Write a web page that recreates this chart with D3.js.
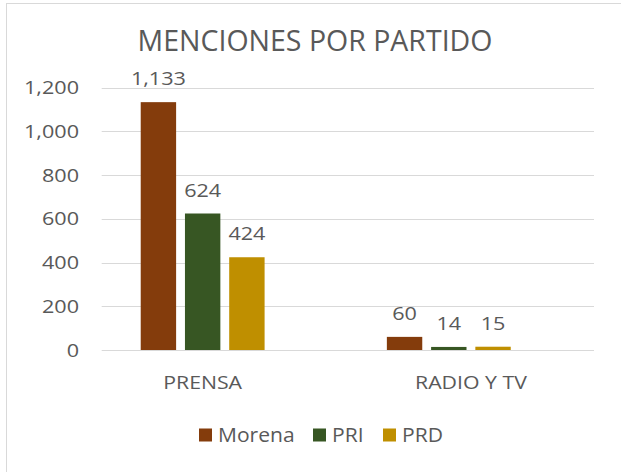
<!DOCTYPE html>
<html lang="es">
<head>
	<meta charset="UTF-8">
	<title>Menciones por partido</title>
	<script src="https://d3js.org/d3.v7.min.js"></script>
	<style>
		body { margin: 0; background: #fff; }
		text { font-family: "Open Sans", "Liberation Sans", sans-serif; fill: #595959; }
	</style>
</head>
<body>
<div id="chart"></div>
<script>

	// data
	var categories = ["PRENSA", "RADIO Y TV"];
	var series = ["Morena", "PRI", "PRD"];
	var morena = [1133, 60];
	var pri = [624, 14];
	var prd = [424, 15];
	var yTicks = [0, 200, 400, 600, 800, 1000, 1200];
	var colors = ["#843C0C", "#375623", "#BF8F00"];

	var values = [morena, pri, prd];
	var w = 621, h = 472;

	var svg = d3.select("#chart").append("svg")
		.attr("width", w)
		.attr("height", h);

	// chart border
	svg.append("rect")
		.attr("x", 6.5).attr("y", 3.5)
		.attr("width", 640).attr("height", 500)
		.attr("fill", "none")
		.attr("stroke", "#D9D9D9");

	// the picture's text is wider than the fonts we have, so stretch it a bit
	function place(sel, x, y, sx) {
		return sel.attr("transform", "translate(" + x + "," + y + ") scale(" + sx + ",1)");
	}

	var y = d3.scaleLinear().domain([0, 1200]).range([350, 87.5]);

	var x0 = d3.scaleBand()
		.domain(categories)
		.range([101.7, 594])
		.paddingInner(0.317)
		.paddingOuter(0.1585);

	// Excel leaves room for a 4th (empty) series slot
	var x1 = d3.scaleBand()
		.domain([0, 1, 2, 3])
		.range([0, x0.bandwidth()])
		.paddingInner(0.2);

	// gridlines
	svg.append("g").selectAll("line")
		.data(yTicks)
		.enter().append("line")
		.attr("x1", 101.7).attr("x2", 594)
		.attr("y1", function (d) { return Math.round(y(d)) + 0.5; })
		.attr("y2", function (d) { return Math.round(y(d)) + 0.5; })
		.attr("stroke", "#D9D9D9")
		.attr("stroke-width", 1);

	// y tick labels
	svg.append("g").selectAll("text")
		.data(yTicks)
		.enter().append("text")
		.attr("text-anchor", "end")
		.attr("font-size", 18)
		.text(function (d) { return d3.format(",")(d); })
		.each(function (d) { place(d3.select(this), 79, y(d) + 6.5, 1.2); });

	// bars
	var groups = svg.append("g").selectAll("g")
		.data(categories)
		.enter().append("g")
		.attr("transform", function (d) { return "translate(" + x0(d) + ",0)"; });

	function cells(d, ci) {
		return series.map(function (s, si) { return { si: si, v: values[si][ci] }; });
	}

	groups.selectAll("rect")
		.data(cells)
		.enter().append("rect")
		.attr("x", function (d) { return x1(d.si); })
		.attr("width", x1.bandwidth())
		.attr("y", function (d) { return y(d.v); })
		.attr("height", function (d) { return y(0) - y(d.v); })
		.attr("fill", function (d) { return colors[d.si]; });

	// data labels
	groups.selectAll("text")
		.data(cells)
		.enter().append("text")
		.attr("text-anchor", "middle")
		.attr("font-size", 18)
		.text(function (d) { return d3.format(",")(d.v); })
		.each(function (d) { place(d3.select(this), x1(d.si) + x1.bandwidth() / 2, y(d.v) - 17, 1.2); });

	// category labels (first one sits under its three bars, second under the band centre)
	var labelShift = [-x1.step() / 2, 0];
	svg.append("g").selectAll("text")
		.data(categories)
		.enter().append("text")
		.attr("text-anchor", "middle")
		.attr("font-size", 18.5)
		.text(function (d) { return d; })
		.each(function (d, i) { place(d3.select(this), x0(d) + x0.bandwidth() / 2 + labelShift[i], 389, 1.15); });

	// title
	svg.append("text")
		.attr("x", 315).attr("y", 50.5)
		.attr("text-anchor", "middle")
		.attr("font-family", "Liberation Sans, Arial, sans-serif")
		.attr("font-size", 28.5)
		.text("MENCIONES POR PARTIDO");

	// legend
	var legendX = [199, 313, 383];
	var legend = svg.append("g").selectAll("g")
		.data(series)
		.enter().append("g");

	legend.append("rect")
		.attr("x", function (d, i) { return legendX[i]; })
		.attr("y", 428.5)
		.attr("width", 13).attr("height", 13)
		.attr("fill", function (d, i) { return colors[i]; });

	legend.append("text")
		.attr("font-size", 19.5)
		.text(function (d) { return d; })
		.each(function (d, i) { place(d3.select(this), legendX[i] + 19, 441.7, 1.08); });

</script>
</body>
</html>
